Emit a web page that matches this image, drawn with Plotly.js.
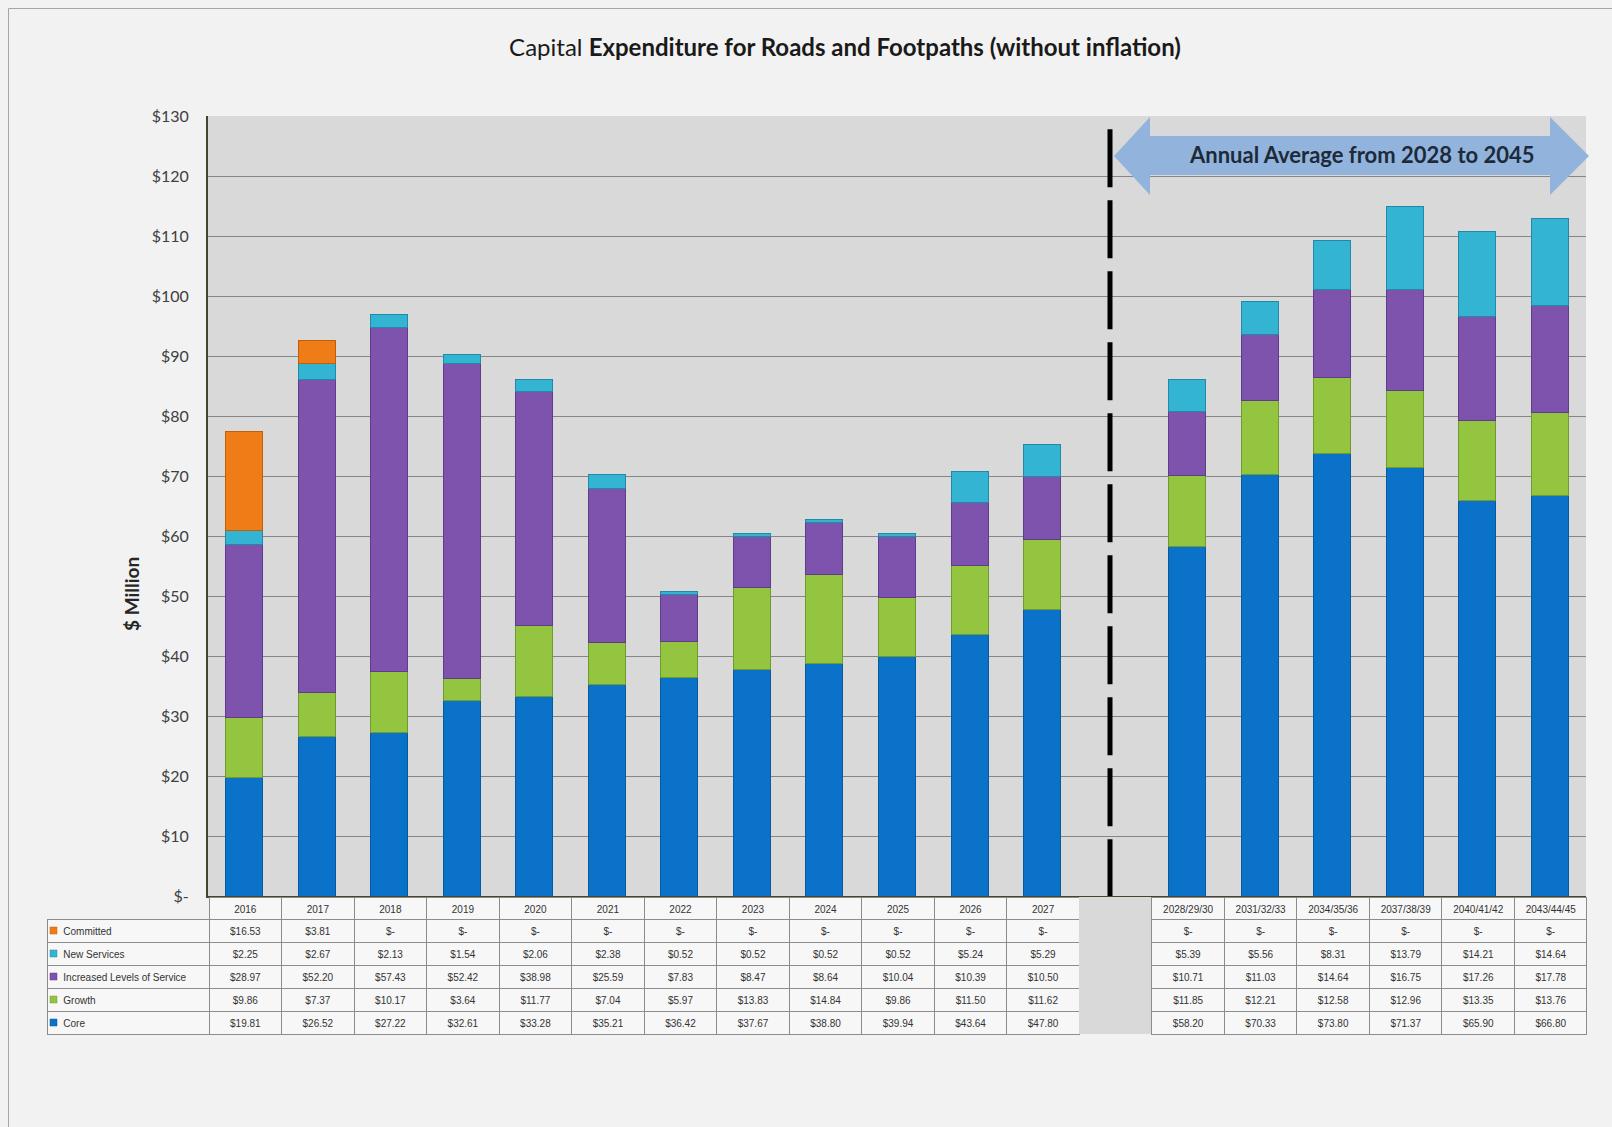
<!DOCTYPE html>
<html>
<head>
<meta charset="utf-8">
<script src="https://cdn.plot.ly/plotly-3.0.1.min.js"></script>
<style>
html, body { margin: 0; padding: 0; background: #f2f2f2; }
#chart { width: 1612px; height: 1127px; }
</style>
</head>
<body>
<div id="chart"></div>
<script>
// categories: 12 single years, an empty spacer column, then 6 three-year averages
var years = ['2016', '2017', '2018', '2019', '2020', '2021', '2022', '2023', '2024', '2025', '2026', '2027'];
var GAP = 'gap';
var averages = ['2028/29/30', '2031/32/33', '2034/35/36', '2037/38/39', '2040/41/42', '2043/44/45'];
var categories = years.concat([GAP], averages);

// $ million
var core        = [19.81, 26.52, 27.22, 32.61, 33.28, 35.21, 36.42, 37.67, 38.80, 39.94, 43.64, 47.80, null, 58.20, 70.33, 73.80, 71.37, 65.90, 66.80];
var growth      = [9.86, 7.37, 10.17, 3.64, 11.77, 7.04, 5.97, 13.83, 14.84, 9.86, 11.50, 11.62, null, 11.85, 12.21, 12.58, 12.96, 13.35, 13.76];
var ils         = [28.97, 52.20, 57.43, 52.42, 38.98, 25.59, 7.83, 8.47, 8.64, 10.04, 10.39, 10.50, null, 10.71, 11.03, 14.64, 16.75, 17.26, 17.78];
var newServices = [2.25, 2.67, 2.13, 1.54, 2.06, 2.38, 0.52, 0.52, 0.52, 0.52, 5.24, 5.29, null, 5.39, 5.56, 8.31, 13.79, 14.21, 14.64];
var committed   = [16.53, 3.81, 0, 0, 0, 0, 0, 0, 0, 0, 0, 0, null, 0, 0, 0, 0, 0, 0];

var yTicks = [0, 10, 20, 30, 40, 50, 60, 70, 80, 90, 100, 110, 120, 130];

var series = [
	{name: 'Core', y: core, color: '#0a72c8', edge: '#075a9e'},
	{name: 'Growth', y: growth, color: '#93c541', edge: '#6f9a2c'},
	{name: 'Increased Levels of Service', y: ils, color: '#7e53ae', edge: '#5f3b8a'},
	{name: 'New Services', y: newServices, color: '#33b4d3', edge: '#2089a3'},
	{name: 'Committed', y: committed, color: '#ef7c16', edge: '#c05f0a'}
];

var W = 1612, H = 1127;
var TABLE_TOP = 897, HEAD_H = 22, ROW_H = 23;
function px(x) { return x / W; }
function py(y) { return 1 - y / H; }
function money(v) {
	if (v === null) return '';
	return v === 0 ? '$-' : '$' + v.toFixed(2);
}

var data = series.map(function (s) {
	return {
		type: 'bar',
		x: categories,
		// zero segments are left out so they don't leave an outline on top of the stack
		y: s.y.map(function (v) { return v === 0 ? null : v; }),
		name: s.name,
		marker: {color: s.color, line: {color: s.edge, width: 1}},
		hoverinfo: 'x+y+name'
	};
});

// data table: legend column, then one column per category (rows top->bottom = stack top->bottom)
var rowOrder = series.slice().reverse();
var legendCol = rowOrder.map(function (s) { return '\u00a0\u00a0\u00a0' + s.name; });
var tableValues = [legendCol].concat(categories.map(function (c, i) {
	return rowOrder.map(function (s) { return money(s.y[i]); });
}));
var headerValues = [''].concat(categories.map(function (c) { return c === GAP ? '' : c; }));

var cellFill = ['#f7f7f7'], headFill = ['rgba(0,0,0,0)'];
var cellLineW = [1], headLineW = [0];
var aligns = ['left'];
categories.forEach(function (c) {
	var gap = c === GAP;
	cellFill.push(gap ? '#d9d9d9' : '#f7f7f7');
	headFill.push(gap ? '#d9d9d9' : '#f7f7f7');
	cellLineW.push(gap ? 0 : 1);
	headLineW.push(gap ? 0 : 1);
	aligns.push('center');
});

data.push({
	type: 'table',
	domain: {x: [px(47), px(1587)], y: [0, py(TABLE_TOP)]},
	columnwidth: [162].concat(categories.map(function () { return 72.5; })),
	header: {
		values: headerValues,
		height: HEAD_H,
		align: 'center',
		fill: {color: headFill},
		line: {color: '#8c8c8c', width: headLineW},
		font: {family: 'Liberation Sans, Arial, sans-serif', size: 10, color: '#333333'}
	},
	cells: {
		values: tableValues,
		height: ROW_H,
		align: aligns,
		fill: {color: cellFill},
		line: {color: '#8c8c8c', width: cellLineW},
		font: {family: 'Liberation Sans, Arial, sans-serif', size: 10, color: '#333333'}
	}
});

// coloured legend keys in front of the row labels
var keyShapes = rowOrder.map(function (s, r) {
	var mid = TABLE_TOP + HEAD_H + ROW_H * r + 11.5;
	return {
		type: 'rect', xref: 'paper', yref: 'paper',
		x0: px(50), x1: px(57), y0: py(mid + 3.5), y1: py(mid - 3.5),
		fillcolor: s.color, line: {color: s.edge, width: 0.5}, layer: 'above'
	};
});

var arrowPts = [[1114, 156], [1150, 117], [1150, 136], [1550, 136], [1550, 117], [1589, 156],
	[1550, 195], [1550, 175], [1150, 175], [1150, 195]];
var arrowPath = 'M ' + arrowPts.map(function (p) { return px(p[0]) + ',' + py(p[1]); }).join(' L ') + ' Z';

var layout = {
	width: W,
	height: H,
	margin: {l: 0, r: 0, t: 0, b: 0},
	paper_bgcolor: '#f2f2f2',
	plot_bgcolor: '#d9d9d9',
	font: {family: 'Lato, "Open Sans", sans-serif', color: '#262626'},
	showlegend: false,
	barmode: 'stack',
	bargap: 0.49,
	title: {
		text: 'Capital <b>Expenditure for Roads and Footpaths (without inflation)</b>',
		font: {family: 'Lato, sans-serif', size: 24, color: '#1a1a1a'},
		xref: 'paper', yref: 'paper',
		x: px(845), y: py(48),
		xanchor: 'center', yanchor: 'middle'
	},
	xaxis: {
		type: 'category',
		domain: [px(208), px(1586)],
		showticklabels: false,
		showgrid: false,
		showline: true,
		linecolor: '#45452e',
		linewidth: 2,
		fixedrange: true
	},
	yaxis: {
		domain: [py(896), py(116)],
		range: [0, 130],
		tickvals: yTicks,
		ticktext: yTicks.map(function (v) { return v === 0 ? '$-' : '$' + v; }),
		tickfont: {family: 'Lato, sans-serif', size: 16, color: '#404040'},
		ticklabelstandoff: 14,
		showgrid: true,
		gridcolor: '#868686',
		gridwidth: 1,
		zeroline: false,
		showline: true,
		linecolor: '#45452e',
		linewidth: 2,
		fixedrange: true
	},
	shapes: [
		{type: 'rect', xref: 'paper', yref: 'paper', x0: px(8.5), x1: 1.01, y0: -0.01, y1: py(8.5),
			line: {color: '#a6a6a6', width: 1}, fillcolor: 'rgba(0,0,0,0)', layer: 'below'},
		{type: 'path', xref: 'paper', yref: 'paper', path: arrowPath,
			fillcolor: '#92b4dc', line: {width: 0}, layer: 'above'},
		{type: 'line', xref: 'paper', yref: 'y', x0: px(1110), x1: px(1110), y0: 127.8, y1: 0,
			line: {color: '#000000', width: 5, dash: '58px,13px'}, layer: 'above'}
	].concat(keyShapes),
	annotations: [
		{text: '<b>Annual Average from 2028 to 2045</b>', xref: 'paper', yref: 'paper',
			x: px(1362), y: py(155), xanchor: 'center', yanchor: 'middle', showarrow: false,
			font: {family: 'Lato, sans-serif', size: 22, color: '#1c2a3a'}},
		{text: '<b>$ Million</b>', xref: 'paper', yref: 'paper',
			x: px(132), y: py(594), xanchor: 'center', yanchor: 'middle', showarrow: false,
			textangle: -90, font: {family: 'Lato, sans-serif', size: 19, color: '#262626'}}
	]
};

var config = {displayModeBar: false, responsive: false};

Plotly.newPlot('chart', data, layout, config);
</script>
</body>
</html>
